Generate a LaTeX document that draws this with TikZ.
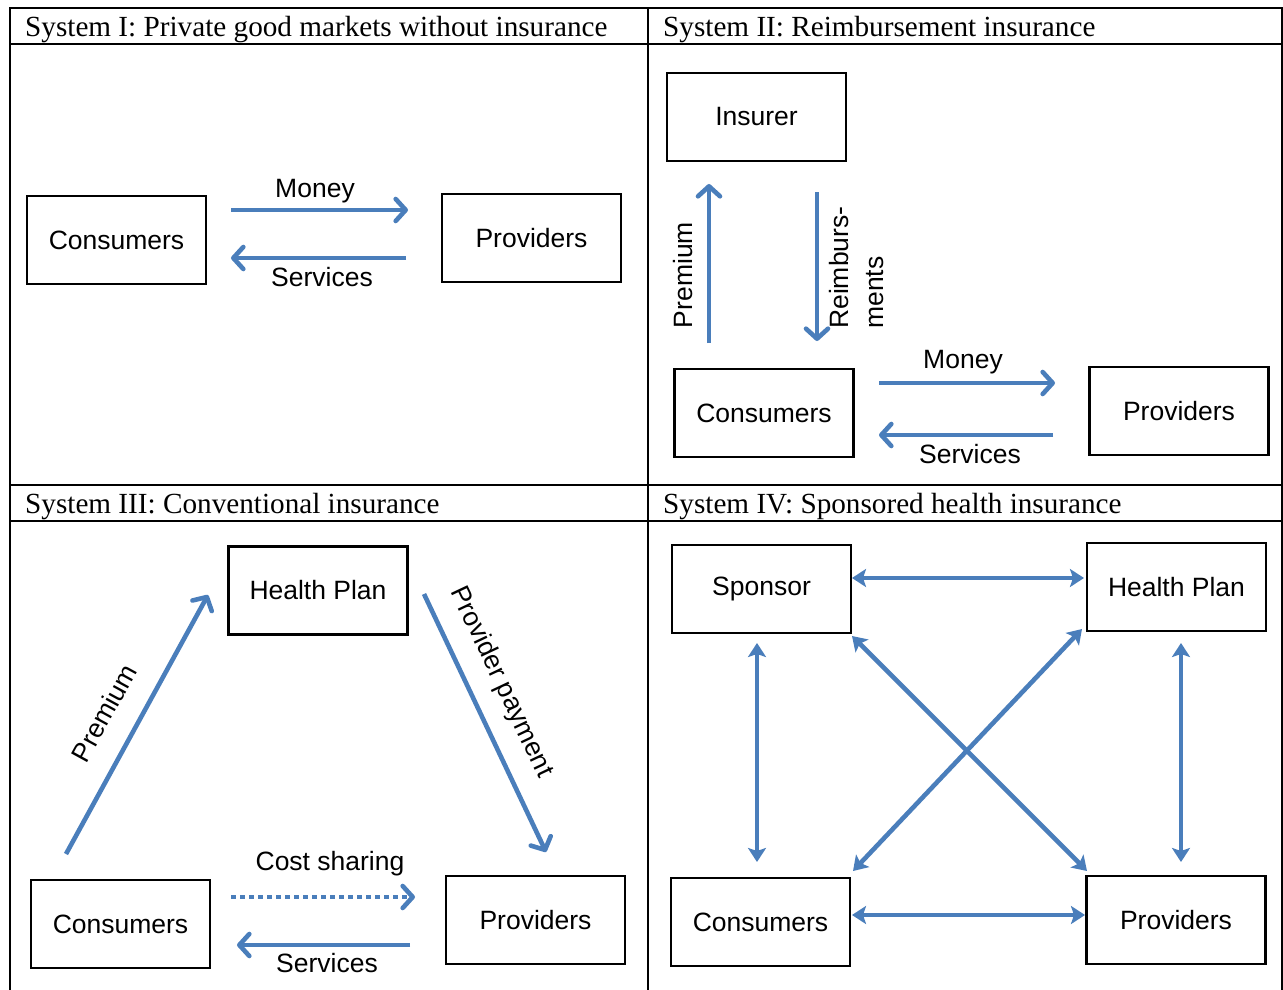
\documentclass[tikz,border=0pt]{standalone}
\usepackage{fontspec}
\setmainfont{Liberation Serif}
\newfontfamily\lsans{Liberation Sans}
\usetikzlibrary{arrows.meta}
\definecolor{arrowblue}{RGB}{74,126,187}
\begin{document}
\begin{tikzpicture}[x=1pt,y=-1pt,
  box/.style={draw=black,line width=2.2pt,minimum width=179pt,minimum height=88pt,inner sep=0pt,font=\lsans\fontsize{26.5}{30}\selectfont},
  lbl/.style={inner sep=0pt,font=\lsans\fontsize{26.5}{30}\selectfont},
  hdr/.style={anchor=base west,inner sep=0pt,font=\fontsize{29.2}{34}\selectfont},
  flow/.style={draw=arrowblue,line width=4.6pt,-{Straight Barb[length=10pt,width=22pt,round]}},
  dotflow/.style={draw=arrowblue,line width=4.6pt,dash pattern=on 5pt off 4pt,-{Straight Barb[length=10pt,width=22pt,round,sep=0pt]}},
  dflow/.style={draw=arrowblue,line width=4.6pt,{Stealth[length=14pt,width=18pt,inset=3pt]}-{Stealth[length=14pt,width=18pt,inset=3pt]}},
  tableline/.style={line width=2.4pt,draw=black}]
\useasboundingbox (0,0) rectangle (1283,990);
\fill[white] (0,0) rectangle (1283,990);
% table
\draw[tableline] (9,8) -- (1283,8);
\draw[tableline] (9,44) -- (1283,44);
\draw[tableline] (9,485) -- (1283,485);
\draw[tableline] (9,521) -- (1283,521);
\draw[tableline] (10,8) -- (10,990);
\draw[tableline] (648,8) -- (648,990);
\draw[tableline] (1282,8) -- (1282,990);
% headers
\node[hdr] (h1) at (25,37) {System I: Private good markets without insurance};
\node[hdr] (h2) at (663,37) {System II: Reimbursement insurance};
\node[hdr] (h3) at (25,513) {System III: Conventional insurance};
\node[hdr] (h4) at (663,513) {System IV: Sponsored health insurance};

% ---------- Panel I
\node[box] (c1) at (116.5,240) {Consumers};
\node[box] (p1) at (531.5,238) {Providers};
\coordinate (m1s) at (231,210);
\coordinate (m1e) at (408,210);
\coordinate (s1s) at (406,258);
\coordinate (s1e) at (231,258);
\draw[flow] (m1s) -- (m1e);
\draw[flow] (s1s) -- (s1e);
\node[lbl] (ml1) at (315,191) {Money};
\node[lbl] (sl1) at (322,277) {Services};

% ---------- Panel II
\node[box] (i2) at (756.5,117) {Insurer};
\node[box] (c2) at (764,413) {Consumers};
\node[box] (p2) at (1179,411) {Providers};
\coordinate (pr2s) at (709,343);
\coordinate (pr2e) at (709,184);
\coordinate (rb2s) at (817,192);
\coordinate (rb2e) at (817,341);
\draw[flow] (pr2s) -- (pr2e);
\draw[flow] (rb2s) -- (rb2e);
\node[lbl,rotate=90] (prl2) at (683,275) {Premium};
\node[lbl,rotate=90,anchor=north west,align=left,font=\lsans\fontsize{26.5}{35}\selectfont] (rbl2) at (829,329) {Reimburs-\\ments};
\coordinate (m2s) at (879,383);
\coordinate (m2e) at (1055,383);
\coordinate (s2s) at (1053,435);
\coordinate (s2e) at (879,435);
\draw[flow] (m2s) -- (m2e);
\draw[flow] (s2s) -- (s2e);
\node[lbl] (ml2) at (963,362) {Money};
\node[lbl] (sl2) at (970,454) {Services};

% ---------- Panel III
\node[box] (hp3) at (318,590.5) {Health Plan};
\node[box] (c3) at (120.5,924) {Consumers};
\node[box] (p3) at (535.5,920) {Providers};
\coordinate (pr3s) at (66,854);
\coordinate (pr3e) at (208,595);
\coordinate (pp3s) at (424,594);
\coordinate (pp3e) at (546,852);
\draw[flow] (pr3s) -- (pr3e);
\draw[flow] (pp3s) -- (pp3e);
\node[lbl,rotate=61.3] (prl3) at (104,713) {Premium};
\node[lbl,rotate=-64.7] (ppl3) at (501,682) {Provider payment};
\coordinate (cs3s) at (231,897);
\coordinate (cs3e) at (415,897);
\coordinate (s3s) at (410,945);
\coordinate (s3e) at (237,945);
\draw[dotflow] (cs3s) -- (cs3e);
\draw[flow] (s3s) -- (s3e);
\node[lbl] (csl3) at (330,864) {Cost sharing};
\node[lbl] (sl3) at (327,963) {Services};

% ---------- Panel IV
\node[box] (sp4) at (761.5,589) {Sponsor};
\node[box] (hp4) at (1176.5,587) {Health Plan};
\node[box] (c4) at (760.5,922) {Consumers};
\node[box] (p4) at (1176,920) {Providers};
\coordinate (a1s) at (852,578);
\coordinate (a1e) at (1084,578);
\coordinate (a2s) at (852,915);
\coordinate (a2e) at (1085,915);
\coordinate (a3s) at (757,643);
\coordinate (a3e) at (757,862);
\coordinate (a4s) at (1181,643);
\coordinate (a4e) at (1181,862);
\coordinate (a5s) at (852,636);
\coordinate (a5e) at (1087,871);
\coordinate (a6s) at (1082,629);
\coordinate (a6e) at (853,871);
\draw[dflow] (a1s) -- (a1e);
\draw[dflow] (a2s) -- (a2e);
\draw[dflow] (a3s) -- (a3e);
\draw[dflow] (a4s) -- (a4e);
\draw[dflow] (a5s) -- (a5e);
\draw[dflow] (a6s) -- (a6e);
\end{tikzpicture}
\end{document}
